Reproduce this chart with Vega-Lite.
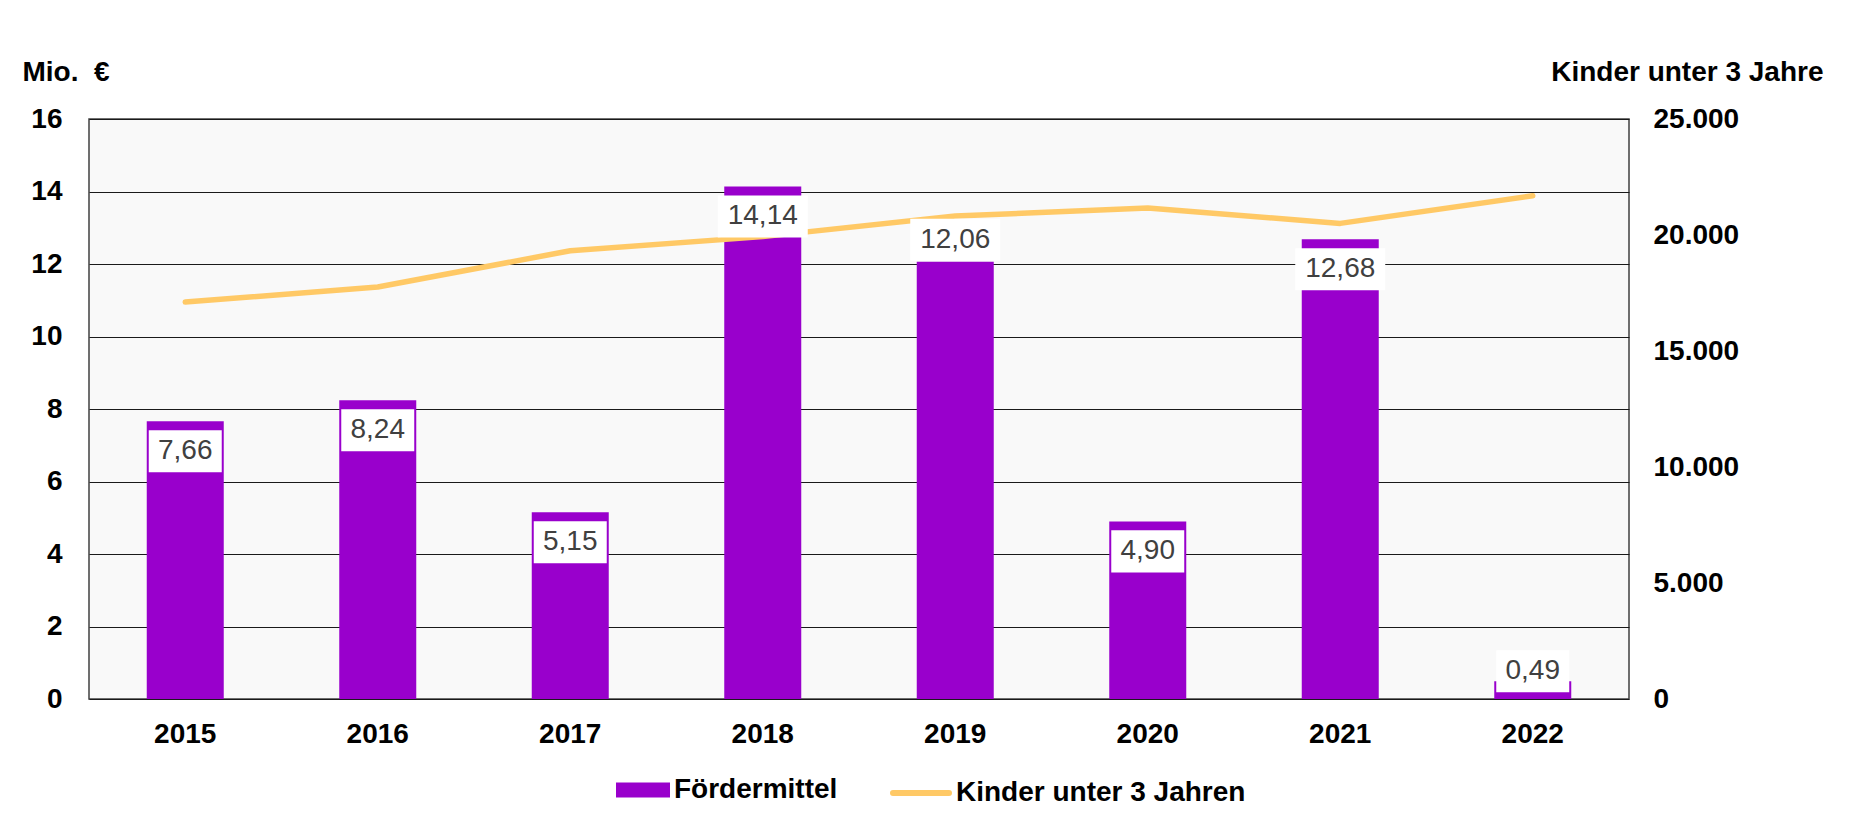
{
  "$schema": "https://vega.github.io/schema/vega-lite/v6.json",
  "width": 1540,
  "height": 580,
  "autosize": {"type": "none"},
  "padding": {"left": 89, "top": 119, "right": 226, "bottom": 127},
  "background": "white",
  "config": {
    "locale": {"number": {"decimal": ",", "thousands": ".", "grouping": [3], "currency": ["", " €"]}},
    "font": "Liberation Sans",
    "view": {"fill": "#F9F9F9", "stroke": "#404040", "strokeWidth": 1.5}
  },
  "data": {"values": [
    {"jahr": "2015", "mittel": 7.66, "kinder": 17110},
    {"jahr": "2016", "mittel": 8.24, "kinder": 17760},
    {"jahr": "2017", "mittel": 5.15, "kinder": 19320},
    {"jahr": "2018", "mittel": 14.14, "kinder": 19930},
    {"jahr": "2019", "mittel": 12.06, "kinder": 20820},
    {"jahr": "2020", "mittel": 4.90, "kinder": 21160},
    {"jahr": "2021", "mittel": 12.68, "kinder": 20500},
    {"jahr": "2022", "mittel": 0.49, "kinder": 21690}
  ]},
  "encoding": {
    "x": {"field": "jahr", "type": "nominal", "scale": {"paddingInner": 0, "paddingOuter": 0},
      "axis": {"title": null, "labelAngle": 0, "labelFont": "Liberation Sans", "labelFontSize": 28, "labelFontWeight": "bold", "labelColor": "black", "ticks": false, "domain": false, "labelPadding": 21}}
  },
  "layer": [
    {
      "mark": {"type": "bar", "width": {"band": 0.4}, "color": "#9900CC"},
      "encoding": {
        "y": {"field": "mittel", "type": "quantitative", "scale": {"domain": [0, 16], "nice": false},
          "axis": {"values": [0, 2, 4, 6, 8, 10, 12, 14, 16], "title": "Mio.\u00a0 €", "titleAngle": 0, "titleX": -67, "titleY": -47, "titleAlign": "left", "titleBaseline": "middle", "titleFont": "Liberation Sans", "titleFontSize": 28, "titleFontWeight": "bold", "titleColor": "black",
            "labelFont": "Liberation Sans", "labelFontSize": 28, "labelFontWeight": "bold", "labelColor": "black", "labelPadding": 27, "ticks": false, "domain": false,
            "grid": true, "gridColor": "#1a1a1a", "gridWidth": 1.2, "gridOpacity": 1}},
        "fill": {"datum": "Fördermittel", "scale": {"range": ["#9900CC"]},
          "legend": {"title": null, "orient": "none", "legendX": 527, "legendY": 644, "padding": 0, "symbolType": "M-1,-0.278H1V0.278H-1Z", "symbolSize": 2916, "symbolStrokeWidth": 0, "labelFont": "Liberation Sans", "labelFontSize": 28, "labelFontWeight": "bold", "labelColor": "black", "labelOffset": 4, "labelLimit": 0}}
      }
    },
    {
      "mark": {"type": "line", "strokeWidth": 5.5, "strokeCap": "round", "strokeJoin": "round"},
      "encoding": {
        "y": {"field": "kinder", "type": "quantitative", "scale": {"domain": [0, 25000], "nice": false},
          "axis": {"orient": "right", "values": [0, 5000, 10000, 15000, 20000, 25000], "format": ",.0f", "title": "Kinder unter 3 Jahre", "titleAngle": 0, "titleX": 194, "titleY": -47, "titleAlign": "right", "titleBaseline": "middle", "titleFont": "Liberation Sans", "titleFontSize": 28, "titleFontWeight": "bold", "titleColor": "black",
            "labelFont": "Liberation Sans", "labelFontSize": 28, "labelFontWeight": "bold", "labelColor": "black", "labelAlign": "left", "labelPadding": 24, "ticks": false, "domain": false, "grid": false}},
        "stroke": {"datum": "Kinder unter 3 Jahren", "scale": {"range": ["#FFC966"]},
          "legend": {"title": null, "orient": "none", "legendX": 801, "legendY": 643, "padding": 0, "symbolType": "stroke", "symbolSize": 3136, "symbolStrokeWidth": 6, "labelFont": "Liberation Sans", "labelFontSize": 28, "labelFontWeight": "bold", "labelColor": "black", "labelOffset": 4, "labelLimit": 0,
            "encode": {"symbols": {"update": {"strokeCap": {"value": "round"}}}}}}
      }
    },
    {
      "transform": [{"filter": "datum.jahr != '2019' && datum.jahr != '2022'"}],
      "mark": {"type": "point", "filled": true, "color": "white", "opacity": 1, "strokeWidth": 0, "size": 8100, "yOffset": 30},
      "encoding": {
        "y": {"field": "mittel", "type": "quantitative", "scale": {"domain": [0, 16], "nice": false}, "axis": null},
        "shape": {"condition": {"test": "datum.mittel >= 10", "value": "M-1,-0.467H1V0.467H-1Z"}, "value": "M-0.811,-0.467H0.811V0.467H-0.811Z"}
      }
    },
    {
      "transform": [{"filter": "datum.jahr == '2019'"}],
      "mark": {"type": "point", "filled": true, "color": "white", "opacity": 1, "strokeWidth": 0, "size": 8100, "yOffset": -22, "shape": "M-1,-0.467H1V0.467H-1Z"},
      "encoding": {
        "y": {"field": "mittel", "type": "quantitative", "scale": {"domain": [0, 16], "nice": false}, "axis": null}
      }
    },
    {
      "transform": [{"filter": "datum.jahr == '2022'"}],
      "mark": {"type": "point", "filled": true, "color": "white", "opacity": 1, "strokeWidth": 0, "size": 8100, "yOffset": -10, "shape": "M-0.811,-0.467H0.811V0.467H-0.811Z"},
      "encoding": {
        "y": {"field": "mittel", "type": "quantitative", "scale": {"domain": [0, 16], "nice": false}, "axis": null}
      }
    },
    {
      "transform": [{"filter": "datum.jahr != '2019' && datum.jahr != '2022'"}],
      "mark": {"type": "text", "font": "Liberation Sans", "fontSize": 28, "color": "#404040", "baseline": "middle", "yOffset": 30},
      "encoding": {
        "y": {"field": "mittel", "type": "quantitative", "scale": {"domain": [0, 16], "nice": false}, "axis": null},
        "text": {"field": "mittel", "type": "quantitative", "format": ".2f"}
      }
    },
    {
      "transform": [{"filter": "datum.jahr == '2019'"}],
      "mark": {"type": "text", "font": "Liberation Sans", "fontSize": 28, "color": "#404040", "baseline": "middle", "yOffset": -22},
      "encoding": {
        "y": {"field": "mittel", "type": "quantitative", "scale": {"domain": [0, 16], "nice": false}, "axis": null},
        "text": {"field": "mittel", "type": "quantitative", "format": ".2f"}
      }
    },
    {
      "transform": [{"filter": "datum.jahr == '2022'"}],
      "mark": {"type": "text", "font": "Liberation Sans", "fontSize": 28, "color": "#404040", "baseline": "middle", "yOffset": -10},
      "encoding": {
        "y": {"field": "mittel", "type": "quantitative", "scale": {"domain": [0, 16], "nice": false}, "axis": null},
        "text": {"field": "mittel", "type": "quantitative", "format": ".2f"}
      }
    }
  ],
  "resolve": {"scale": {"y": "independent"}, "axis": {"y": "independent"}}
}
